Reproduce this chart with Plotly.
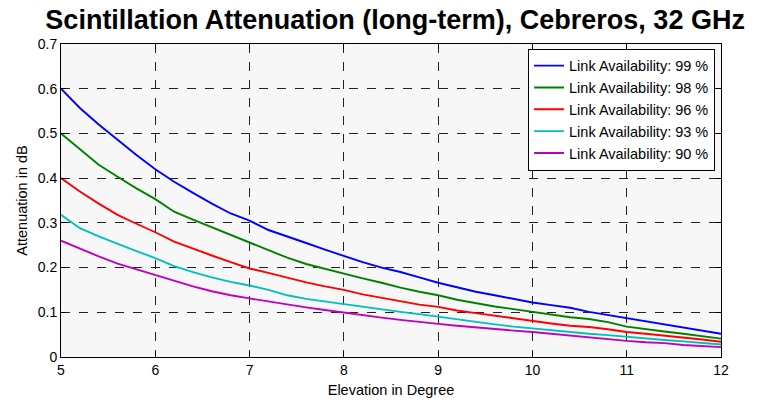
import plotly.graph_objects as go

# Elevation angle in degrees
elevation = [5.0, 5.2, 5.4, 5.6, 5.8, 6.0, 6.2, 6.4, 6.6, 6.8, 7.0,
             7.2, 7.4, 7.6, 7.8, 8.0, 8.2, 8.4, 8.6, 8.8, 9.0,
             9.2, 9.4, 9.6, 9.8, 10.0, 10.2, 10.4, 10.6, 10.8, 11.0,
             11.2, 11.4, 11.6, 11.8, 12.0]

# Scintillation attenuation in dB for each link availability
att_99 = [0.600, 0.557, 0.520, 0.485, 0.452, 0.420, 0.392, 0.367, 0.343, 0.321, 0.305,
          0.284, 0.270, 0.255, 0.240, 0.226, 0.212, 0.200, 0.190, 0.178, 0.166,
          0.156, 0.146, 0.138, 0.130, 0.122, 0.116, 0.110, 0.101, 0.094, 0.086,
          0.080, 0.073, 0.066, 0.059, 0.052]
att_98 = [0.500, 0.465, 0.430, 0.403, 0.377, 0.353, 0.325, 0.307, 0.290, 0.272, 0.255,
          0.238, 0.222, 0.208, 0.197, 0.187, 0.176, 0.166, 0.155, 0.146, 0.138,
          0.128, 0.120, 0.113, 0.107, 0.101, 0.095, 0.089, 0.085, 0.078, 0.068,
          0.062, 0.057, 0.052, 0.046, 0.041]
att_96 = [0.400, 0.370, 0.343, 0.318, 0.298, 0.279, 0.258, 0.242, 0.227, 0.212, 0.198,
          0.188, 0.177, 0.167, 0.158, 0.150, 0.140, 0.132, 0.124, 0.117, 0.112,
          0.104, 0.098, 0.092, 0.086, 0.081, 0.075, 0.070, 0.067, 0.062, 0.056,
          0.052, 0.048, 0.044, 0.039, 0.034]
att_93 = [0.318, 0.288, 0.270, 0.253, 0.237, 0.221, 0.203, 0.190, 0.178, 0.168, 0.160,
          0.150, 0.138, 0.130, 0.124, 0.118, 0.112, 0.106, 0.101, 0.096, 0.090,
          0.084, 0.079, 0.073, 0.068, 0.064, 0.059, 0.055, 0.052, 0.049, 0.045,
          0.041, 0.038, 0.035, 0.031, 0.028]
att_90 = [0.260, 0.242, 0.225, 0.209, 0.196, 0.183, 0.170, 0.158, 0.147, 0.138, 0.131,
          0.124, 0.117, 0.111, 0.105, 0.099, 0.093, 0.088, 0.083, 0.078, 0.074,
          0.070, 0.066, 0.062, 0.059, 0.056, 0.052, 0.047, 0.044, 0.040, 0.036,
          0.033, 0.031, 0.027, 0.024, 0.022]

series_names = ["Link Availability: 99 %", "Link Availability: 98 %",
                "Link Availability: 96 %", "Link Availability: 93 %",
                "Link Availability: 90 %"]
series_values = [att_99, att_98, att_96, att_93, att_90]
series_colors = ["#0000ff", "#008000", "#ff0000", "#00bfbf", "#bf00bf"]

x_ticks = [5, 6, 7, 8, 9, 10, 11, 12]
y_ticks = [0, 0.1, 0.2, 0.3, 0.4, 0.5, 0.6, 0.7]
y_tick_text = ["0", "0.1", "0.2", "0.3", "0.4", "0.5", "0.6", "0.7"]

FONT = "Liberation Sans, Arial, sans-serif"

fig = go.Figure()
for name, vals, col in zip(series_names, series_values, series_colors):
    fig.add_trace(go.Scatter(x=elevation, y=vals, mode="lines", name=name,
                             line=dict(color=col, width=1.9)))

axis_common = dict(
    showline=True, linecolor="black", linewidth=1, mirror="ticks",
    ticks="inside", ticklen=5, tickcolor="black",
    showgrid=True, gridcolor="#222222", griddash="dash", gridwidth=1,
    zeroline=False, automargin=False,
    tickfont=dict(family=FONT, size=14, color="black"),
)

fig.update_xaxes(range=[5, 12], tickvals=x_ticks,
                 title=dict(text="Elevation in Degree", font=dict(family=FONT, size=14.5, color="black"),
                            standoff=8),
                 **axis_common)
fig.update_yaxes(range=[0, 0.7], tickvals=y_ticks, ticktext=y_tick_text,
                 title=dict(text="Attenuation in dB", font=dict(family=FONT, size=14.5, color="black"),
                            standoff=6),
                 **axis_common)

fig.update_layout(
    width=757, height=400,
    margin=dict(l=61, r=36, t=44, b=43),
    paper_bgcolor="white", plot_bgcolor="#f7f7f7",
    title=dict(text="<b>Scintillation Attenuation (long-term), Cebreros, 32 GHz</b>",
               font=dict(family=FONT, size=27, color="black"),
               x=0.522, xanchor="center", y=0.975, yanchor="top"),
    legend=dict(x=0.991, xanchor="right", y=0.985, yanchor="top",
                bgcolor="white", bordercolor="black", borderwidth=1,
                font=dict(family=FONT, size=14.5, color="black"),
                tracegroupgap=0),
    showlegend=True,
)

fig.write_html("out.html")
